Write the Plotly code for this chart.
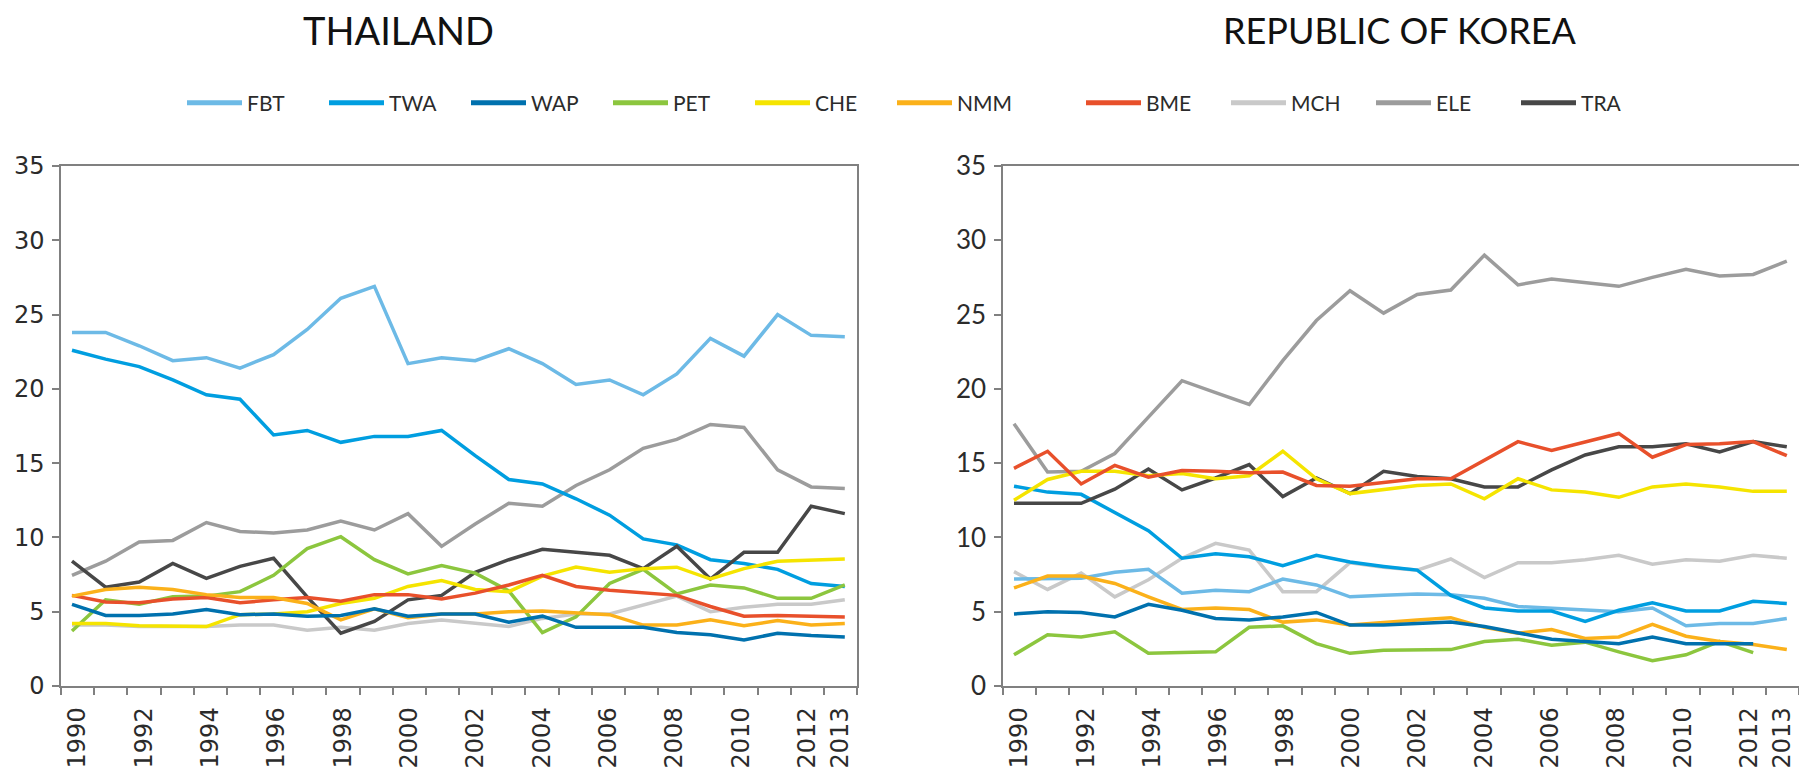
import plotly.graph_objects as go

years = list(range(1990, 2014))
series_names = ["FBT", "TWA", "WAP", "PET", "CHE", "NMM", "BME", "MCH", "ELE", "TRA"]
colors = ["#6DBAE6", "#009EE0", "#0071AE", "#8CC63E", "#F5E400", "#FBB11A",
          "#E8502B", "#C9C9C9", "#9C9C9C", "#474747"]

# Thailand
th_FBT = [23.8, 23.8, 22.9, 21.9, 22.1, 21.4, 22.3, 24.0, 26.1, 26.9, 21.7, 22.1,
          21.9, 22.7, 21.7, 20.3, 20.6, 19.6, 21.0, 23.4, 22.2, 25.0, 23.6, 23.5]
th_TWA = [22.6, 22.0, 21.5, 20.6, 19.6, 19.3, 16.9, 17.2, 16.4, 16.8, 16.8, 17.2,
          15.5, 13.9, 13.6, 12.6, 11.5, 9.9, 9.5, 8.5, 8.25, 7.85, 6.9, 6.7]
th_WAP = [5.5, 4.75, 4.75, 4.85, 5.15, 4.8, 4.85, 4.7, 4.75, 5.2, 4.7, 4.85,
          4.85, 4.3, 4.7, 3.95, 3.95, 3.95, 3.6, 3.45, 3.1, 3.55, 3.4, 3.3]
th_PET = [3.7, 5.8, 5.5, 6.0, 6.05, 6.35, 7.45, 9.25, 10.05, 8.5, 7.55, 8.1,
          7.6, 6.4, 3.6, 4.65, 6.9, 7.85, 6.2, 6.8, 6.6, 5.9, 5.9, 6.8]
th_CHE = [4.2, 4.2, 4.05, 4.0, 4.0, 4.8, 4.85, 5.0, 5.55, 5.9, 6.7, 7.1,
          6.5, 6.35, 7.4, 8.0, 7.65, 7.9, 8.0, 7.2, 7.9, 8.4, 8.5, 8.55]
th_NMM = [6.05, 6.5, 6.65, 6.5, 6.15, 5.95, 5.95, 5.55, 4.45, 5.2, 4.6, 4.85,
          4.85, 5.0, 5.05, 4.95, 4.8, 4.1, 4.1, 4.45, 4.05, 4.4, 4.1, 4.2]
th_BME = [6.1, 5.65, 5.6, 5.85, 5.95, 5.6, 5.8, 5.95, 5.7, 6.15, 6.15, 5.85,
          6.25, 6.8, 7.45, 6.7, 6.45, 6.25, 6.1, 5.35, 4.7, 4.75, 4.7, 4.65]
th_MCH = [4.1, 4.1, 4.0, 4.0, 4.0, 4.1, 4.1, 3.75, 3.95, 3.75, 4.2, 4.45,
          4.2, 4.0, 4.55, 4.85, 4.85, 5.45, 6.05, 5.0, 5.3, 5.5, 5.5, 5.8]
th_ELE = [7.45, 8.4, 9.7, 9.8, 11.0, 10.4, 10.3, 10.5, 11.1, 10.5, 11.6, 9.4,
          10.9, 12.3, 12.1, 13.5, 14.55, 16.0, 16.6, 17.6, 17.4, 14.55, 13.4, 13.3]
th_TRA = [8.4, 6.65, 7.0, 8.25, 7.25, 8.05, 8.6, 6.0, 3.55, 4.35, 5.8, 6.1,
          7.65, 8.5, 9.2, 9.0, 8.8, 7.9, 9.4, 7.2, 9.0, 9.0, 12.1, 11.6]

# Republic of Korea
kr_FBT = [7.2, 7.25, 7.25, 7.65, 7.85, 6.25, 6.45, 6.35, 7.2, 6.8, 6.0, 6.1,
          6.2, 6.15, 5.9, 5.35, 5.25, 5.1, 5.0, 5.25, 4.05, 4.2, 4.2, 4.55]
kr_TWA = [13.45, 13.05, 12.9, 11.7, 10.45, 8.6, 8.9, 8.7, 8.1, 8.8, 8.35, 8.05,
          7.8, 6.1, 5.25, 5.05, 5.05, 4.35, 5.1, 5.6, 5.05, 5.05, 5.7, 5.55]
kr_WAP = [4.85, 5.0, 4.95, 4.65, 5.5, 5.1, 4.55, 4.45, 4.65, 4.95, 4.1, 4.1,
          4.2, 4.3, 4.0, 3.55, 3.15, 3.0, 2.85, 3.3, 2.85, 2.85, 2.85, None]
kr_PET = [2.1, 3.45, 3.3, 3.65, 2.2, 2.25, 2.3, 3.95, 4.05, 2.85, 2.2, 2.4,
          2.45, 2.45, 3.0, 3.15, 2.75, 2.95, 2.3, 1.7, 2.1, 3.0, 2.25, None]
kr_CHE = [12.5, 13.9, 14.45, 14.45, 14.15, 14.3, 13.95, 14.15, 15.8, 13.95, 12.95, 13.2,
          13.5, 13.6, 12.6, 13.95, 13.2, 13.05, 12.7, 13.4, 13.6, 13.4, 13.1, 13.1]
kr_NMM = [6.6, 7.4, 7.4, 6.9, 6.0, 5.15, 5.25, 5.15, 4.3, 4.45, 4.1, 4.3,
          4.45, 4.6, 3.95, 3.55, 3.8, 3.2, 3.3, 4.15, 3.35, 3.0, 2.8, 2.45]
kr_BME = [14.65, 15.8, 13.6, 14.85, 14.05, 14.5, 14.45, 14.35, 14.4, 13.5, 13.45, 13.7,
          13.95, 13.95, 15.2, 16.45, 15.85, 16.45, 17.0, 15.4, 16.25, 16.3, 16.45, 15.5]
kr_MCH = [7.7, 6.5, 7.6, 6.0, 7.15, 8.6, 9.6, 9.15, 6.35, 6.35, 8.3, 8.0,
          7.8, 8.55, 7.3, 8.3, 8.3, 8.5, 8.8, 8.2, 8.5, 8.4, 8.8, 8.6]
kr_ELE = [17.65, 14.4, 14.45, 15.65, 18.1, 20.55, 19.75, 18.95, 21.9, 24.6, 26.6, 25.1,
          26.35, 26.65, 29.0, 27.0, 27.4, 27.15, 26.9, 27.5, 28.05, 27.6, 27.7, 28.6]
kr_TRA = [12.3, 12.3, 12.3, 13.25, 14.6, 13.2, 14.0, 14.9, 12.75, 14.0, 12.95, 14.45,
          14.1, 13.95, 13.4, 13.4, 14.55, 15.55, 16.1, 16.1, 16.3, 15.75, 16.45, 16.1]

thailand = [th_FBT, th_TWA, th_WAP, th_PET, th_CHE, th_NMM, th_BME, th_MCH, th_ELE, th_TRA]
korea = [kr_FBT, kr_TWA, kr_WAP, kr_PET, kr_CHE, kr_NMM, kr_BME, kr_MCH, kr_ELE, kr_TRA]

panel_titles = ["THAILAND", "REPUBLIC OF KOREA"]
y_ticks = [0, 5, 10, 15, 20, 25, 30, 35]
x_label_years = list(range(1990, 2013, 2)) + [2013]

W, H = 1799, 772
PLOT_W = 796.0          # plot width in px
PT_STEP = 33.6          # px between yearly points (as in the source)
PT_OFF = 11.0           # px from the left axis to the first point
x0 = years[0] - PT_OFF / PT_STEP
x1 = x0 + PLOT_W / PT_STEP
n_cat = len(years)
cat = (x1 - x0) / n_cat
bounds = [x0 + k * cat for k in range(n_cat + 1)]
label_pos = [x0 + (yr - years[0] + 0.5) * cat for yr in x_label_years]

fig = go.Figure()

order = [8, 7, 0, 1, 9, 3, 4, 6, 5, 2]
for panel, data in enumerate([thailand, korea]):
    xa = "x" if panel == 0 else "x2"
    ya = "y" if panel == 0 else "y2"
    for i in order:
        fig.add_trace(go.Scatter(
            x=years, y=data[i], mode="lines", name=series_names[i],
            line=dict(color=colors[i], width=3.5), xaxis=xa, yaxis=ya,
            showlegend=False, legendgroup=series_names[i], connectgaps=False))

# legend entries: first six in one legend row, last four in a second one
for i, nm in enumerate(series_names):
    fig.add_trace(go.Scatter(
        x=[None], y=[None], mode="lines", name=nm,
        line=dict(color=colors[i], width=5), legendgroup=nm, showlegend=True,
        legend="legend" if i < 6 else "legend2"))

ydom = [1 - 686 / H, 1 - 166 / H]
axis_col = "#808080"
text_col = "#2b2b2b"

def xaxis_cfg(px0, anchor):
    return dict(
        domain=[px0 / W, (px0 + PLOT_W) / W], range=[x0, x1], anchor=anchor,
        tickmode="array", tickvals=label_pos, ticktext=[str(v) for v in x_label_years],
        ticks="", tickangle=-90, showline=True, mirror=True, linecolor=axis_col, linewidth=1.5,
        showgrid=False, zeroline=False, automargin=False, ticklabeloverflow="allow",
        tickfont=dict(family="DejaVu Sans", size=24, color=text_col),
        minor=dict(tickmode="array", tickvals=bounds,
                   ticks="outside", ticklen=7, tickcolor=axis_col, tickwidth=1.5, showgrid=False),
        ticklabelstandoff=10,
    )

def yaxis_cfg(anchor, fam, size):
    return dict(
        domain=ydom, range=[0, 35], tickmode="array", tickvals=y_ticks,
        ticks="outside", ticklen=7, tickcolor=axis_col, tickwidth=1.5,
        showline=True, mirror=True, linecolor=axis_col, linewidth=1.5,
        showgrid=False, zeroline=False, anchor=anchor, automargin=False,
        tickfont=dict(family=fam, size=size, color=text_col), ticklabelstandoff=3,
    )

legend_common = dict(orientation="h", xanchor="left", y=1 - 103 / H, yanchor="middle",
                     font=dict(family="Lato", size=21, color=text_col),
                     itemwidth=55, entrywidthmode="pixels", bgcolor="rgba(0,0,0,0)")

fig.update_layout(
    width=W, height=H,
    margin=dict(l=0, r=0, t=0, b=0),
    paper_bgcolor="white", plot_bgcolor="white",
    xaxis=xaxis_cfg(61, "y"),
    yaxis=yaxis_cfg("x", "DejaVu Sans", 24),
    xaxis2=xaxis_cfg(1003, "y2"),
    yaxis2=yaxis_cfg("x2", "Lato", 26),
    legend=dict(legend_common, x=182 / W, entrywidth=72),
    legend2=dict(legend_common, x=1081 / W, entrywidth=75),
    annotations=[
        dict(text=panel_titles[0], x=398 / W, y=1 - 30 / H, xref="paper", yref="paper",
             showarrow=False, xanchor="center", yanchor="middle",
             font=dict(family="Lato", size=38, color="#111111")),
        dict(text=panel_titles[1], x=1400 / W, y=1 - 30 / H, xref="paper", yref="paper",
             showarrow=False, xanchor="center", yanchor="middle",
             font=dict(family="Lato", size=36, color="#111111")),
    ],
)

fig.write_html("out.html", config={"displayModeBar": False},
               post_script="document.body.style.margin='0px';")
